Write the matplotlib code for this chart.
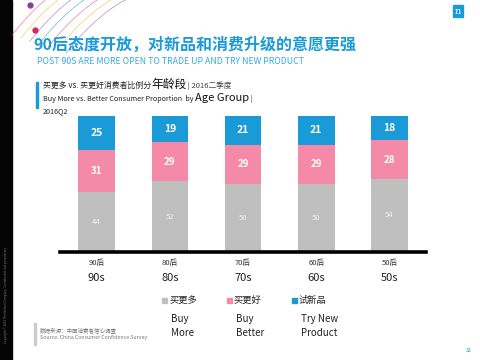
import matplotlib
matplotlib.use("Agg")
import matplotlib.pyplot as plt
import numpy as np
from matplotlib.patches import Rectangle

plt.rcParams["font.family"] = ["Noto Sans CJK SC", "DejaVu Sans"]

# -------------------------
# Data
# -------------------------
ages_cn = ["90后", "80后", "70后", "60后", "50后"]
ages_en = ["90s", "80s", "70s", "60s", "50s"]
buy_more = [44, 52, 50, 50, 54]
buy_better = [31, 29, 29, 29, 28]
try_new = [25, 19, 21, 21, 18]

series_cn = ["买更多", "买更好", "试新品"]
series_en = ["Buy\nMore", "Buy\nBetter", "Try New\nProduct"]

GRAY = "#C0BFC0"
PINK = "#F48AA8"
BLUE = "#1A9AD6"
colors = [GRAY, PINK, BLUE]

fig = plt.figure(figsize=(4.8, 3.6), dpi=100)
fig.patch.set_facecolor("white")

# overlay axes in pixel coords for decoration / text
ov = fig.add_axes([0, 0, 1, 1])
ov.set_xlim(0, 480)
ov.set_ylim(360, 0)
ov.axis("off")


def chain_text(x0, y, pieces):
    # draw text pieces one after another on a shared baseline
    renderer = fig.canvas.get_renderer()
    x = x0
    for txt, fs, col in pieces:
        t = ov.text(x, y, txt, fontsize=fs, color=col, ha="left", va="baseline")
        bb = t.get_window_extent(renderer=renderer)
        x += bb.width  # 1 px == 1 data unit in overlay


# left black strip
ov.add_patch(Rectangle((0, 0), 12, 360, color="#050505", zorder=1))
ov.text(6, 295, "Copyright © 2016 The Nielsen Company. Confidential and proprietary.",
        rotation=90, fontsize=2.2, color="#777777", ha="center", va="center")

# decorative arcs top-left
t = np.linspace(0, 1, 50)
arc_cols = ["#E8467C", "#F2B632", "#8E5DB0", "#1A9AD6", "#E8467C", "#F2B632", "#8E5DB0"]
for i, c in enumerate(arc_cols):
    x0 = 12 + i * 9
    xs = x0 + 70 * t
    ys = 5 + 30 * (1 - t) ** 2 + i * 3 - 28 * t
    ov.plot(xs, ys, color=c, lw=0.5, alpha=0.7, zorder=2)
ov.plot([30], [5], "o", color="#8E3C94", ms=3.5, zorder=3)
ov.plot([35], [30], "o", color="#D8285A", ms=3.5, zorder=3)

# nielsen logo
ov.add_patch(Rectangle((453, 5), 10, 12, color=BLUE, zorder=2))
ov.text(458, 11.5, "n", color="white", fontsize=7, ha="center", va="center",
        family="DejaVu Serif")

# titles
ov.text(33, 45, "90后态度开放，对新品和消费升级的意愿更强", color=BLUE,
        fontsize=11.5, fontweight="bold", ha="left", va="center")
ov.text(37, 61, "POST 90S ARE MORE OPEN TO TRADE UP AND TRY NEW PRODUCT",
        color="#3AA9DC", fontsize=6.3, ha="left", va="center")

# chart heading
ov.add_patch(Rectangle((36, 82), 2, 26, color=BLUE, zorder=2))
chain_text(43, 88, [("买更多 vs. 买更好消费者比例分", 5.7, "#222222"),
                    ("年龄段", 8.5, "#111111"),
                    (" | 2016二季度", 5.5, "#444444")])
chain_text(43, 101, [("Buy More vs. Better Consumer Proportion  by ", 5.2, "#222222"),
                     ("Age Group", 8, "#111111"),
                     (" |", 5.2, "#444444")])
ov.text(43, 113, "2016Q2", fontsize=5.2, ha="left", va="baseline", color="#222222")

# legend
leg_x = [164, 229, 294]
for lx, c, cn, en in zip(leg_x, colors, series_cn, series_en):
    ov.add_patch(Rectangle((lx - 2, 297.5), 5, 5, color=c, zorder=2))
    ov.text(lx + 5, 300.5, cn, fontsize=6.7, ha="left", va="center", color="#222222")
    ov.text(lx + 7, 314, en, fontsize=7, ha="left", va="top", color="#222222",
            linespacing=1.45)

# source
ov.add_patch(Rectangle((34, 323), 2, 22, color="#CCCCCC", zorder=2))
ov.text(40, 330, "数据来源：中国消费者信心调查", fontsize=4, color="#777777",
        ha="left", va="center", style="italic")
ov.text(40, 338, "Source: China Consumer Confidence Survey", fontsize=3.8,
        color="#777777", ha="left", va="center", style="italic")

# page number
ov.text(469, 350, "32", fontsize=3.8, color=BLUE, ha="center", va="center")

# -------------------------
# Bar chart
# -------------------------
ax = fig.add_axes([60 / 480, 1 - 252 / 360, 366 / 480, 136 / 360])
x = np.arange(len(ages_cn))
bottom = np.zeros(len(x))
for vals, c, lc, fs, fw in zip([buy_more, buy_better, try_new], colors,
                               ["#F2F2F2", "white", "white"],
                               [5.5, 7, 7.5], ["normal", "bold", "bold"]):
    vals = np.array(vals, dtype=float)
    ax.bar(x, vals, bottom=bottom, width=0.5, color=c, edgecolor="none", zorder=2)
    for xi, b, v in zip(x, bottom, vals):
        ax.text(xi, b + v / 2, f"{int(v)}", color=lc, fontsize=fs, fontweight=fw,
                ha="center", va="center", zorder=3)
    bottom += vals

ax.set_xlim(-0.5, 4.5)
ax.set_ylim(0, 100)
ax.axhline(0, color="black", lw=2.6, zorder=4, clip_on=False)
for s in ax.spines.values():
    s.set_visible(False)
ax.set_xticks([])
ax.set_yticks([])
ax.patch.set_alpha(0)

for xi, cn, en in zip(x, ages_cn, ages_en):
    ax.text(xi, -0.08, cn, transform=ax.get_xaxis_transform(), fontsize=5.5,
            ha="center", va="center", color="#333333")
    ax.text(xi, -0.19, en, transform=ax.get_xaxis_transform(), fontsize=8,
            ha="center", va="center", color="#222222")

plt.savefig("out.png", dpi=100)
